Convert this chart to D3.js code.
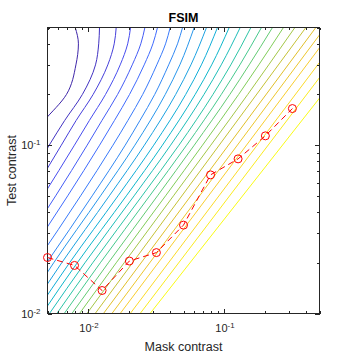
<!DOCTYPE html>
<html>
<head>
<meta charset="utf-8">
<script src="https://cdn.jsdelivr.net/npm/d3@7"></script>
<style>
  body { margin: 0; background: #fff; }
  text { font-family: "Liberation Sans", Arial, Helvetica, sans-serif; fill: #262626; }
</style>
</head>
<body>
<div id="chart"></div>
<script>
const testLevels = [0.5, 0.4, 0.3, 0.2, 0.14, 0.1, 0.05, 0.02, 0.01];

// mask contrast of each contour line at those test levels (null = not read)
const contourMask = [
  [0.00800, 0.00844, 0.00809, 0.00689, 0.00473, 0.00337, 0.00180, 0.00081, null],
  [0.01206, 0.0119, 0.01127, 0.00902, 0.00668, 0.00515, 0.00308, 0.00156, null],
  [0.0160, 0.01547, 0.01388, 0.01082, 0.00811, 0.00632, 0.00377, 0.00187, null],
  [0.0204, 0.01944, 0.01712, 0.01335, 0.01015, 0.00789, 0.00464, 0.00225, null],
  [0.0260, 0.02427, 0.0210, 0.01638, 0.01256, 0.00979, 0.00574, 0.00275, null],
  [0.0322, 0.02979, 0.0257, 0.02005, 0.01552, 0.01208, 0.00704, 0.00333, 0.00186],
  [0.0399, 0.0369, 0.0318, 0.02506, 0.01948, 0.01515, 0.00876, 0.0041, 0.00227],
  [0.0492, 0.0452, 0.0389, 0.0307, 0.0239, 0.01864, 0.01066, 0.00493, 0.0027],
  [0.0599, null, 0.0470, 0.0367, null, 0.02196, 0.01227, 0.00555, 0.00318],
  [0.0738, null, 0.0567, 0.0438, null, 0.0258, 0.01424, 0.00636, 0.00359],
  [0.0889, null, 0.0677, 0.0519, null, 0.0302, 0.0165, 0.00726, 0.00405],
  [0.1084, null, 0.0806, 0.0609, null, 0.0350, 0.0190, 0.00827, 0.00458],
  [0.1306, null, 0.0947, 0.0707, null, 0.0402, 0.02167, 0.00942, 0.00517],
  [0.1565, null, 0.1114, 0.0823, null, 0.0463, 0.0248, 0.01075, 0.00586],
  [0.1872, null, 0.1299, 0.0948, null, 0.0527, 0.0282, 0.01222, 0.00664],
  [0.2256, null, 0.1520, 0.1095, null, 0.0600, 0.0322, 0.0140, 0.00756],
  [0.2718, null, 0.1789, 0.1271, null, 0.0690, 0.0369, 0.0160, 0.0086],
  [0.3297, null, 0.2116, 0.1483, null, 0.0794, 0.0422, 0.0183, 0.00975],
  [0.3972, null, null, null, null, null, null, null, 0.01121],
  [0.470, null, null, null, null, null, null, null, 0.0129],
  [0.549, null, null, null, null, null, null, null, 0.01488],
  [0.647, null, null, null, null, null, null, null, 0.01712],
  [0.781, null, null, null, null, null, null, null, 0.0203],
  [0.953, null, null, null, null, null, null, null, 0.0240],
  [1.280, null, null, null, null, null, null, null, 0.0284]
];

// measured thresholds (red markers)
const maskContrast = [0.005, 0.0079, 0.0126, 0.02, 0.0316, 0.05, 0.079, 0.126, 0.2, 0.316];
const testThreshold = [0.0215, 0.0193, 0.0137, 0.0205, 0.0230, 0.0335, 0.0666, 0.0829, 0.1136, 0.165];

// parula colormap stops
const parula = ["#3e26a8", "#4747eb", "#3e6fff", "#2796eb", "#08b4d0",
                "#31c69f", "#80cc59", "#dcbd29", "#fccf30", "#f9fb15"];

const majorTicks = [0.01, 0.1];
const xMinorTicks = [0.005, 0.006, 0.007, 0.008, 0.009, 0.02, 0.03, 0.04, 0.05, 0.06, 0.07, 0.08, 0.09, 0.2, 0.3, 0.4, 0.5];
const yMinorTicks = [0.02, 0.03, 0.04, 0.05, 0.06, 0.07, 0.08, 0.09, 0.2, 0.3, 0.4, 0.5];

const margin = {top: 27, right: 35, bottom: 41, left: 47},
    width = 354 - margin.left - margin.right,
    height = 354 - margin.top - margin.bottom;

const svg = d3.select("#chart")
  .append("svg")
    .attr("width", 354)
    .attr("height", 354)
  .append("g")
    .attr("transform", `translate(${margin.left + 0.5}, ${margin.top + 0.5})`);

const x = d3.scaleLog()
    .domain([0.005, 0.5])
    .range([0, width]);
const y = d3.scaleLog()
    .domain([0.01, 0.5])
    .range([height, 0]);

const color = d3.scaleLinear()
    .domain(parula.map((c, i) => i / (parula.length - 1)))
    .range(parula);

svg.append("clipPath")
    .attr("id", "plotclip")
  .append("rect")
    .attr("width", width)
    .attr("height", height);

// contour lines
const line = d3.line()
    .x(d => x(d[0]))
    .y(d => y(d[1]))
    .curve(d3.curveMonotoneY);

const contours = contourMask.map(row =>
  row.map((m, j) => [m, testLevels[j]]).filter(d => d[0] !== null));

svg.append("g")
    .attr("clip-path", "url(#plotclip)")
  .selectAll("path")
  .data(contours)
  .join("path")
    .attr("fill", "none")
    .attr("stroke", (d, i) => color(i / (contours.length - 1)))
    .attr("stroke-width", 1)
    .attr("d", line);

// axes
function powLabel(sel) {
  sel.each(function(d) {
    const t = d3.select(this).text(null);
    t.append("tspan").text("10");
    t.append("tspan")
      .attr("dy", "-0.5em")
      .attr("font-size", "0.72em")
      .text(String(Math.round(Math.log10(d))));
  });
}

function styleAxis(g) {
  g.select(".domain").remove();
  g.selectAll(".tick line").attr("stroke", "#262626").attr("shape-rendering", "crispEdges");
}

svg.append("g")
    .attr("transform", `translate(0, ${height})`)
    .call(d3.axisBottom(x).tickValues(majorTicks).tickSizeInner(-4.5).tickSizeOuter(0).tickPadding(11))
    .call(styleAxis)
    .call(g => g.selectAll(".tick text").attr("font-size", 11).call(powLabel));
svg.append("g")
    .attr("transform", `translate(0, ${height})`)
    .call(d3.axisBottom(x).tickValues(xMinorTicks).tickSize(-2.5).tickFormat(""))
    .call(styleAxis);
svg.append("g")
    .call(d3.axisTop(x).tickValues(majorTicks).tickSize(-4.5).tickFormat(""))
    .call(styleAxis);
svg.append("g")
    .call(d3.axisTop(x).tickValues(xMinorTicks).tickSize(-2.5).tickFormat(""))
    .call(styleAxis);

svg.append("g")
    .call(d3.axisLeft(y).tickValues(majorTicks).tickSizeInner(-4.5).tickSizeOuter(0).tickPadding(7))
    .call(styleAxis)
    .call(g => g.selectAll(".tick text").attr("font-size", 11).call(powLabel));
svg.append("g")
    .call(d3.axisLeft(y).tickValues(yMinorTicks).tickSize(-2.5).tickFormat(""))
    .call(styleAxis);
svg.append("g")
    .attr("transform", `translate(${width}, 0)`)
    .call(d3.axisRight(y).tickValues(majorTicks).tickSize(-4.5).tickFormat(""))
    .call(styleAxis);
svg.append("g")
    .attr("transform", `translate(${width}, 0)`)
    .call(d3.axisRight(y).tickValues(yMinorTicks).tickSize(-2.5).tickFormat(""))
    .call(styleAxis);

svg.append("rect")
    .attr("width", width)
    .attr("height", height)
    .attr("fill", "none")
    .attr("stroke", "#262626")
    .attr("shape-rendering", "crispEdges");

// thresholds
const thresholds = maskContrast.map((m, i) => ({m: m, t: testThreshold[i]}));

svg.append("path")
    .datum(thresholds)
    .attr("fill", "none")
    .attr("stroke", "#ff0000")
    .attr("stroke-width", 1)
    .attr("stroke-dasharray", "6,4")
    .attr("d", d3.line().x(d => x(d.m)).y(d => y(d.t)));

svg.append("g")
  .selectAll("circle")
  .data(thresholds)
  .join("circle")
    .attr("cx", d => x(d.m))
    .attr("cy", d => y(d.t))
    .attr("r", 4)
    .attr("fill", "none")
    .attr("stroke", "#ff0000")
    .attr("stroke-width", 1);

// titles
svg.append("text")
    .attr("x", width / 2)
    .attr("y", -5.5)
    .attr("text-anchor", "middle")
    .attr("font-size", 12.5)
    .attr("font-weight", "bold")
    .style("fill", "#000")
    .text("FSIM");

svg.append("text")
    .attr("x", width / 2)
    .attr("y", height + 37)
    .attr("text-anchor", "middle")
    .attr("font-size", 12.5)
    .text("Mask contrast");

svg.append("text")
    .attr("transform", `translate(${-32}, ${height / 2}) rotate(-90)`)
    .attr("text-anchor", "middle")
    .attr("font-size", 12.5)
    .text("Test contrast");
</script>
</body>
</html>
